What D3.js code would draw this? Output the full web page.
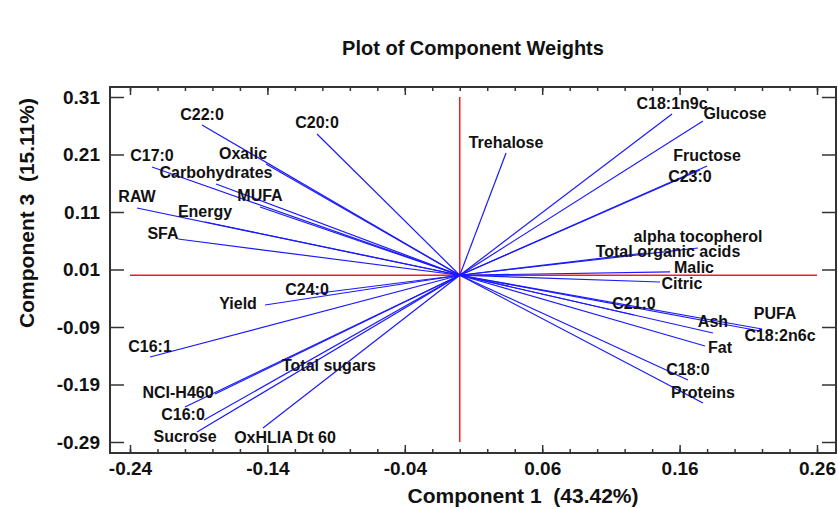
<!DOCTYPE html>
<html><head><meta charset="utf-8">
<script src="https://cdn.jsdelivr.net/npm/d3@7"></script>
<style>
html,body{margin:0;padding:0;background:#fff;}
text{font-family:"Liberation Sans",Arial,sans-serif;font-weight:bold;fill:#111;}
</style></head>
<body><svg id="chart" width="838" height="509"></svg>
<script>
// ---- data (component weights) ----
const variables = ["C22:0","C20:0","C17:0","Oxalic","Carbohydrates","MUFA","RAW","Energy","SFA",
  "Yield","C24:0","C16:1","NCI-H460","Total sugars","C16:0","Sucrose","OxHLIA Dt 60",
  "Trehalose","C18:1n9c","Glucose","Fructose","C23:0","alpha tocopherol","Total organic acids",
  "Malic","Citric","C21:0","Ash","PUFA","C18:2n6c","Fat","C18:0","Proteins"];
const component1 = [-0.1876,-0.1039,-0.2240,-0.1410,-0.1774,-0.1454,-0.2349,-0.1854,-0.2051,
  -0.1417,-0.1075,-0.2254,-0.1781,-0.2000,-0.1861,-0.1912,-0.1432,
  0.0337,0.1545,0.1770,0.1800,0.1748,0.1734,0.1348,
  0.1530,0.1457,0.1268,0.1843,0.2200,0.2185,0.1785,0.1661,0.1770];
const component3 = [0.2613,0.2457,0.1883,0.1935,0.1587,0.1187,0.1170,0.0926,0.0630,
  -0.0517,-0.0326,-0.1422,-0.2065,-0.2291,-0.2517,-0.2726,-0.2657,
  0.2126,0.2804,0.2683,0.1900,0.1830,0.0474,0.0387,
  0.0057,-0.0117,-0.0691,-0.1004,-0.0935,-0.0970,-0.1230,-0.1822,-0.2222];
const xTickValues = [-0.24,-0.14,-0.04,0.06,0.16,0.26];
const yTickValues = [0.31,0.21,0.11,0.01,-0.09,-0.19,-0.29];
const titleText = "Plot of Component Weights";
const xTitle = "Component 1  (43.42%)";
const yTitle = "Component 3  (15.11%)";

// ---- layout ----
const svg = d3.select("#chart");
const frame = {left:110, right:836, top:87, bottom:453};
const x = d3.scaleLinear().domain([-0.24,0.26]).range([130,817]);
const y = d3.scaleLinear().domain([0.31,-0.29]).range([97,442]);
const fmt = d => d3.format(".2f")(d).replace("\u2212","-");

// label centre offsets (pixels) from the endpoint; default is centred just above it
const labelNudge = {
  "Glucose":[32,-7],"C23:0":[-10,6],"Total organic acids":[23,-1],"Malic":[24,-4],
  "Citric":[22,2],"PUFA":[13,-16],"C18:2n6c":[20,4],"Fat":[15,2],
  "Oxalic":[-23,-10],"SFA":[-15,-6],"Yield":[-27,-1],"C24:0":[-5,-4],
  "NCI-H460":[-37,-1],"Total sugars":[144,-41],"C16:0":[-21,-5],"Sucrose":[-12,5],
  "OxHLIA Dt 60":[22,9]
};
const defaultNudge = [0,-11];

const data = variables.map((v,i)=>({name:v, c1:component1[i], c3:component3[i]}));

// title
svg.append("text").attr("x",473).attr("y",55).attr("text-anchor","middle")
  .style("font-size","20px").text(titleText);

// red reference lines
svg.append("line").attr("x1",x(-0.24)).attr("x2",x(0.26)).attr("y1",y(0)).attr("y2",y(0))
  .attr("stroke","#ff1a1a").attr("stroke-width",1.5);
svg.append("line").attr("x1",x(0)).attr("x2",x(0)).attr("y1",y(0.31)).attr("y2",y(-0.29))
  .attr("stroke","#ff1a1a").attr("stroke-width",1.5);

// vectors
svg.append("g").selectAll("line").data(data).join("line")
  .attr("x1",x(0)).attr("y1",y(0))
  .attr("x2",d=>x(d.c1)).attr("y2",d=>y(d.c3))
  .attr("stroke","#1a1aff").attr("stroke-width",1.2);

// labels
svg.append("g").selectAll("text").data(data).join("text")
  .attr("x",d=>x(d.c1)+(labelNudge[d.name]||defaultNudge)[0])
  .attr("y",d=>y(d.c3)+(labelNudge[d.name]||defaultNudge)[1])
  .attr("text-anchor","middle").attr("dominant-baseline","central")
  .style("font-size","16px").text(d=>d.name);

// frame
svg.append("rect").attr("x",frame.left).attr("y",frame.top)
  .attr("width",frame.right-frame.left).attr("height",frame.bottom-frame.top)
  .attr("fill","none").attr("stroke","#333").attr("stroke-width",2);

const minorX = d3.range(-24,27,2).map(v=>v/100);
function styleAxis(g){ g.select(".domain").remove(); g.selectAll(".tick line").attr("stroke","#333").attr("stroke-width",1.5); }

// bottom axis
svg.append("g").attr("transform",`translate(0,${frame.bottom})`)
  .call(d3.axisBottom(x).tickValues(minorX).tickSize(-4).tickFormat(""))
  .call(styleAxis);
const bx = svg.append("g").attr("transform",`translate(0,${frame.bottom})`)
  .call(d3.axisBottom(x).tickValues(xTickValues).tickSize(-8).tickPadding(9).tickFormat(fmt))
  .call(styleAxis);
bx.selectAll("text").style("font-size","19px").attr("fill","#111").attr("font-family",null);
// top axis (ticks only)
svg.append("g").attr("transform",`translate(0,${frame.top})`)
  .call(d3.axisTop(x).tickValues(minorX).tickSize(-4).tickFormat("")).call(styleAxis);
svg.append("g").attr("transform",`translate(0,${frame.top})`)
  .call(d3.axisTop(x).tickValues(xTickValues).tickSize(-8).tickFormat("")).call(styleAxis);

// left axis
const ly = svg.append("g").attr("transform",`translate(${frame.left},0)`)
  .call(d3.axisLeft(y).tickValues(yTickValues).tickSize(-14).tickPadding(10).tickFormat(fmt))
  .call(styleAxis);
ly.selectAll("text").style("font-size","19px").attr("fill","#111").attr("font-family",null);
// right axis ticks
svg.append("g").attr("transform",`translate(${frame.right},0)`)
  .call(d3.axisRight(y).tickValues(yTickValues).tickSize(-14).tickFormat("")).call(styleAxis);

// axis titles
svg.append("text").attr("x",523).attr("y",503).attr("text-anchor","middle")
  .style("font-size","21px").style("white-space","pre").text(xTitle);
svg.append("text").attr("transform","translate(34,213) rotate(-90)").attr("text-anchor","middle")
  .style("font-size","21px").style("white-space","pre").text(yTitle);
</script></body></html>
